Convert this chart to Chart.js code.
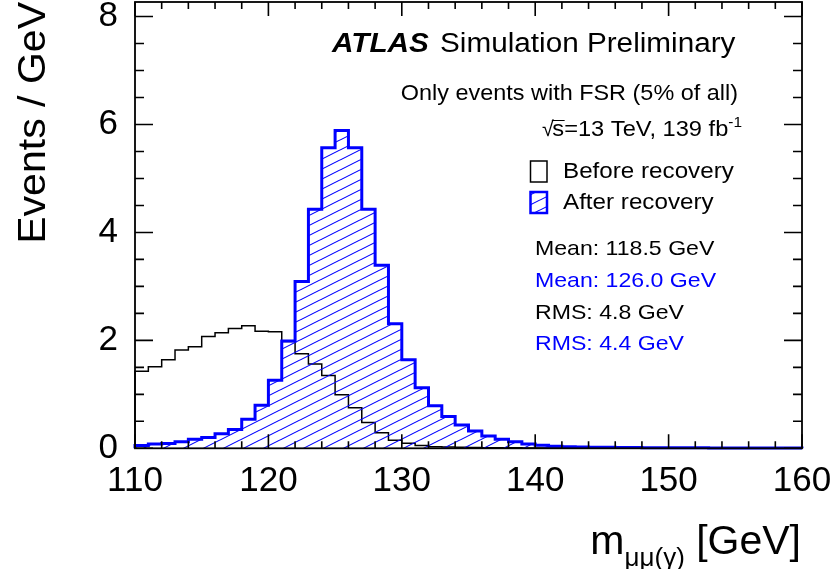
<!DOCTYPE html>
<html><head><meta charset="utf-8">
<script src="https://cdn.jsdelivr.net/npm/chart.js@4.4.0/dist/chart.umd.min.js"></script>
<style>html,body{margin:0;padding:0;background:#fff;}canvas{display:block;}</style>
</head><body>
<canvas id="c" width="835" height="569"></canvas>
<script>
// ---- data ----
const binEdges = [110,111,112,113,114,115,116,117,118,119,120,121,122,123,124,125,126,127,128,129,130,
  131,132,133,134,135,136,137,138,139,140,141,142,143,144,145,146,147,148,149,150,
  151,152,153,154,155,156,157,158,159,160];
const beforeRecovery = [1.43,1.51,1.64,1.82,1.88,2.07,2.14,2.22,2.27,2.17,
  2.16,1.98,1.75,1.56,1.35,0.99,0.75,0.48,0.29,0.15,
  0.095,0.05,0.03,0.025,0.02,0.015,0.012,0.01,0.008,0.006,
  0.005,0.004,0.004,0.003,0.003,0.003,0.002,0.002,0.002,0.002,
  0.002,0.001,0.001,0.001,0.001,0.001,0.001,0.001,0.001,0.001];
const afterRecovery = [0.05,0.08,0.09,0.12,0.17,0.20,0.27,0.35,0.54,0.80,
  1.26,1.99,3.09,4.43,5.57,5.89,5.57,4.43,3.39,2.31,
  1.64,1.12,0.79,0.59,0.43,0.32,0.23,0.17,0.12,0.08,
  0.055,0.04,0.03,0.025,0.02,0.018,0.015,0.013,0.012,0.01,
  0.009,0.008,0.008,0.007,0.006,0.006,0.005,0.005,0.004,0.004];
const xTickLabels = [110,120,130,140,150,160];
const yTickLabels = [0,2,4,6,8];
const legendLabels = ['Before recovery','After recovery'];
const statLines = ['Mean: 118.5 GeV','Mean: 126.0 GeV','RMS: 4.8 GeV','RMS: 4.4 GeV'];
const statColors = ['#000000','#0000ff','#000000','#0000ff'];

const FONT = '"Liberation Sans", Arial, Helvetica, sans-serif';
const BLUE = '#0000ff';

function histPoints(vals){
  const pts = [{x: binEdges[0], y: 0}];
  vals.forEach((v,i)=>pts.push({x: binEdges[i], y: v}));
  pts.push({x: binEdges[vals.length], y: vals[vals.length-1]});
  pts.push({x: binEdges[vals.length], y: 0});
  return pts;
}

const ctx0 = document.getElementById('c').getContext('2d');
function makeHatch(color, lw){
  const W=20,H=10;
  const c=document.createElement('canvas'); c.width=W; c.height=H;
  const g=c.getContext('2d'); g.strokeStyle=color; g.lineWidth=lw;
  for (const dy of [-H,0,H]) { g.beginPath(); g.moveTo(-W, 2*H+dy); g.lineTo(2*W, -H+dy); g.stroke(); }
  return ctx0.createPattern(c,'repeat');
}
const hatch = makeHatch(BLUE, 1.1);

function txt(ctx, s, x, y, o){
  ctx.save(); ctx.translate(x,y); if (o.rot) ctx.rotate(o.rot);
  ctx.scale(o.sx||1, o.sy||1);
  ctx.font = o.font; ctx.fillStyle = o.color||'#000';
  ctx.textAlign = o.align||'left'; ctx.textBaseline='alphabetic';
  ctx.fillText(s,0,0);
  const w = ctx.measureText(s).width*(o.sx||1);
  ctx.restore();
  return w;
}
function measure(ctx, s, font, sx){ ctx.save(); ctx.font=font; const w=ctx.measureText(s).width*(sx||1); ctx.restore(); return w; }

const rootStyle = {
  id:'rootStyle',
  afterDatasetsDraw(chart){
    const ctx = chart.ctx, a = chart.chartArea, xs = chart.scales.x, ys = chart.scales.y;
    ctx.save();
    ctx.strokeStyle='#000'; ctx.lineWidth=1.8; ctx.lineCap='butt';
    // frame
    ctx.strokeRect(a.left, a.top, a.right-a.left, a.bottom-a.top);
    // x ticks (inward, bottom and top)
    ctx.lineWidth=1.6;
    for (let v=110; v<=160; v+=2){
      const px = xs.getPixelForValue(v);
      const len = (v%10===0)?14:7;
      ctx.beginPath(); ctx.moveTo(px,a.bottom); ctx.lineTo(px,a.bottom-len);
      ctx.moveTo(px,a.top); ctx.lineTo(px,a.top+len); ctx.stroke();
    }
    for (let v=0; v<=8.01; v+=0.5){
      const py = ys.getPixelForValue(v);
      const len = (Math.abs(v%2)<1e-6)?18:9;
      ctx.beginPath(); ctx.moveTo(a.left,py); ctx.lineTo(a.left+len,py);
      ctx.moveTo(a.right,py); ctx.lineTo(a.right-len,py); ctx.stroke();
    }
    // ATLAS label
    txt(ctx,'ATLAS',332,52,{font:`italic bold 27px ${FONT}`,sx:1.1});
    txt(ctx,'Simulation Preliminary',440,52,{font:`27px ${FONT}`,sx:1.1});
    txt(ctx,'Only events with FSR (5% of all)',738,100,{font:`21.3px ${FONT}`,sx:1.1,align:'right'});
    // sqrt(s) line
    const fm = `21.5px ${FONT}`, fs = `14px ${FONT}`;
    const supW = measure(ctx,'-1',fs,1.1);
    const right = 742;
    const mainStr = '=13 TeV, 139 fb';
    const mainW = measure(ctx,mainStr,fm,1.1);
    const sW = measure(ctx,'s',fm,1.1);
    const rootW = measure(ctx,'√',fm,1.0);
    const xSup = right - supW;
    const xMain = xSup - mainW;
    const xs_ = xMain - sW;
    const xRoot = xs_ - rootW + 1.5;
    txt(ctx,'-1',xSup,127,{font:fs,sx:1.1});
    txt(ctx,mainStr,xMain,136,{font:fm,sx:1.1});
    txt(ctx,'s',xs_,136,{font:fm,sx:1.1});
    txt(ctx,'√',xRoot,136,{font:fm});
    ctx.lineWidth=1; ctx.beginPath(); ctx.moveTo(xs_-0.5,120.5); ctx.lineTo(xs_+sW+0.5,120.5); ctx.stroke();
    // legend
    ctx.lineWidth=1.5; ctx.strokeStyle='#000';
    ctx.strokeRect(530.5,161,16.5,21);
    ctx.fillStyle=hatch; ctx.fillRect(530.5,192,16.5,21);
    ctx.lineWidth=2.5; ctx.strokeStyle=BLUE; ctx.strokeRect(530.5,192,16.5,21);
    txt(ctx,legendLabels[0],563,177.5,{font:`22px ${FONT}`,sx:1.1});
    txt(ctx,legendLabels[1],563,208.5,{font:`22px ${FONT}`,sx:1.1});
    // stats
    const sy = [255,287,319,350];
    statLines.forEach((s,i)=>txt(ctx,s,535,sy[i],{font:`21px ${FONT}`,sx:1.1,color:statColors[i]}));
    // axis titles
    txt(ctx,'Events / GeV',45,2,{font:`38px ${FONT}`,rot:-Math.PI/2,sx:1.08,align:'right'});
    const fT = `41px ${FONT}`, fSub = `26px ${FONT}`;
    const gW = measure(ctx,' [GeV]',fT,1);
    const subW = measure(ctx,'μμ(γ)',fSub,1);
    const mW = measure(ctx,'m',fT,1);
    const xG = 801 - gW, xSub = xG - subW, xM = xSub - mW;
    txt(ctx,' [GeV]',xG,554,{font:fT});
    txt(ctx,'μμ(γ)',xSub,566,{font:fSub});
    txt(ctx,'m',xM,554,{font:fT});
    ctx.restore();
  }
};

new Chart(ctx0, {
  type:'line',
  data:{
    datasets:[
      {label:legendLabels[1], data:histPoints(afterRecovery), stepped:true, borderColor:BLUE, borderWidth:3,
       backgroundColor:hatch, fill:'origin', pointRadius:0, clip:4},
      {label:legendLabels[0], data:histPoints(beforeRecovery), stepped:true, borderColor:'#000', borderWidth:1.5,
       fill:false, pointRadius:0, clip:4}
    ]
  },
  options:{
    responsive:false, animation:false, devicePixelRatio:1,
    layout:{padding:{left:0,top:2,right:33,bottom:0}},
    plugins:{legend:{display:false}, tooltip:{enabled:false}},
    scales:{
      x:{type:'linear', min:110, max:160,
         afterFit:(s)=>{s.height=120.7; s.paddingLeft=0; s.paddingRight=0;},
         afterBuildTicks:(s)=>{s.ticks = xTickLabels.map(v=>({value:v}));},
         grid:{display:false, drawTicks:false}, border:{display:false},
         ticks:{font:{family:FONT,size:35}, color:'#000', padding:12, maxRotation:0, autoSkip:false}},
      y:{type:'linear', min:0, max:8.27,
         afterFit:(s)=>{s.width=135; s.paddingTop=0; s.paddingBottom=0;},
         afterBuildTicks:(s)=>{s.ticks = yTickLabels.map(v=>({value:v}));},
         grid:{display:false, drawTicks:false}, border:{display:false},
         ticks:{font:{family:FONT,size:35}, color:'#000', padding:17, autoSkip:false}}
    }
  },
  plugins:[rootStyle]
});
</script>
</body></html>
